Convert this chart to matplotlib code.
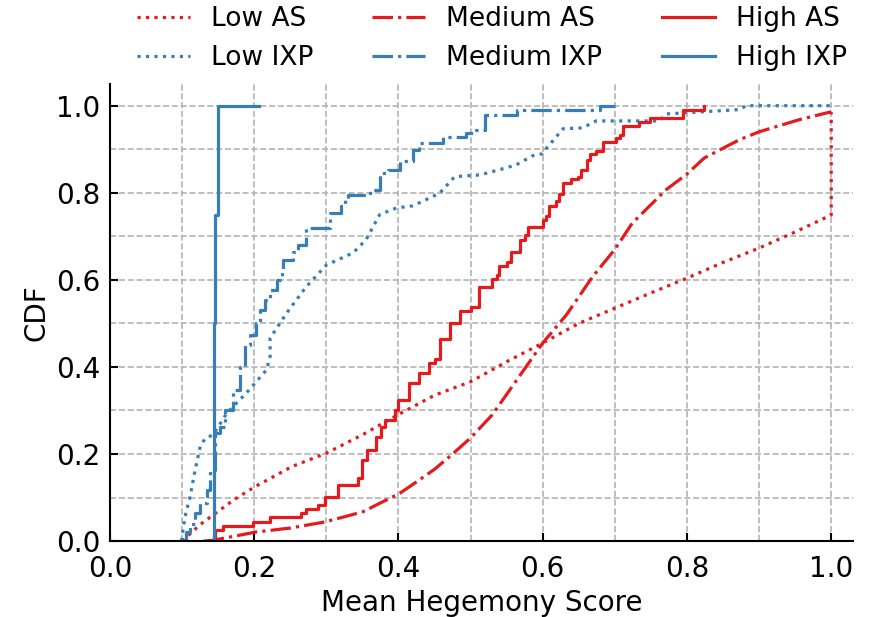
import numpy as np
import matplotlib
matplotlib.use("Agg")
import matplotlib.pyplot as plt
from matplotlib.ticker import MultipleLocator

# Colores (Set1)
RED = "#e41a1c"
BLUE = "#377eb8"

# --- Datos (x = score, y = CDF) ---
# Low AS (curva casi continua)
low_as_x = [0.100, 0.125, 0.171, 0.201, 0.252, 0.300, 0.351, 0.399, 0.450, 0.500,
            0.550, 0.600, 0.650, 0.700, 0.750, 0.800, 0.850, 0.900, 0.950, 1.000, 1.000]
low_as_y = [0.000, 0.038, 0.094, 0.125, 0.171, 0.202, 0.245, 0.290, 0.335, 0.366,
            0.412, 0.455, 0.500, 0.535, 0.570, 0.604, 0.640, 0.673, 0.710, 0.749, 0.985]

# Medium AS
med_as_x = [0.130, 0.143, 0.203, 0.250, 0.298, 0.350, 0.402, 0.425, 0.450, 0.475,
            0.500, 0.530, 0.564, 0.600, 0.633, 0.669, 0.700, 0.724, 0.771, 0.800,
            0.824, 0.873, 0.900, 0.956, 1.000]
med_as_y = [0.000, 0.002, 0.021, 0.030, 0.044, 0.067, 0.110, 0.136, 0.165, 0.200,
            0.237, 0.290, 0.370, 0.455, 0.520, 0.607, 0.670, 0.730, 0.807, 0.843,
            0.880, 0.922, 0.940, 0.968, 0.986]

# High AS (escalones)
high_as_x = [0.143, 0.145, 0.157, 0.198, 0.222, 0.265, 0.272, 0.289, 0.298, 0.316,
             0.344, 0.349, 0.356, 0.369, 0.376, 0.381, 0.395, 0.399, 0.415, 0.429,
             0.443, 0.450, 0.457, 0.471, 0.485, 0.501, 0.512, 0.529, 0.537, 0.540,
             0.551, 0.556, 0.568, 0.575, 0.579, 0.600, 0.605, 0.609, 0.619, 0.623,
             0.628, 0.639, 0.649, 0.653, 0.662, 0.665, 0.674, 0.684, 0.702, 0.707,
             0.711, 0.734, 0.749, 0.794, 0.824]
high_as_y = [0.000, 0.025, 0.035, 0.045, 0.055, 0.065, 0.073, 0.083, 0.102, 0.129,
             0.144, 0.186, 0.209, 0.240, 0.263, 0.278, 0.301, 0.324, 0.362, 0.385,
             0.408, 0.419, 0.464, 0.500, 0.529, 0.537, 0.583, 0.602, 0.611, 0.631,
             0.642, 0.665, 0.692, 0.703, 0.722, 0.738, 0.746, 0.769, 0.782, 0.797,
             0.822, 0.831, 0.837, 0.853, 0.876, 0.890, 0.897, 0.917, 0.926, 0.933,
             0.954, 0.963, 0.972, 0.989, 1.000]

# Low IXP
low_ixp_x = [0.099, 0.104, 0.111, 0.118, 0.125, 0.132, 0.143, 0.162, 0.189, 0.217,
             0.222, 0.222, 0.245, 0.272, 0.300, 0.337, 0.355, 0.374, 0.397, 0.420,
             0.443, 0.457, 0.478, 0.513, 0.540, 0.563, 0.586, 0.600, 0.605, 0.619,
             0.628, 0.655, 0.674, 0.762, 0.771, 0.873, 0.882, 1.000]
low_ixp_y = [0.000, 0.056, 0.102, 0.163, 0.217, 0.236, 0.244, 0.294, 0.340, 0.393,
             0.424, 0.466, 0.524, 0.584, 0.634, 0.662, 0.692, 0.750, 0.765, 0.770,
             0.788, 0.799, 0.837, 0.841, 0.853, 0.864, 0.885, 0.890, 0.902, 0.929,
             0.947, 0.949, 0.965, 0.965, 0.981, 0.991, 1.000, 1.000]

# Medium IXP (escalones)
med_ixp_x = [0.101, 0.105, 0.111, 0.118, 0.125, 0.134, 0.139, 0.145, 0.152, 0.159,
             0.171, 0.180, 0.187, 0.194, 0.203, 0.208, 0.215, 0.222, 0.231, 0.238,
             0.240, 0.254, 0.261, 0.272, 0.305, 0.320, 0.326, 0.330, 0.360, 0.374,
             0.385, 0.402, 0.420, 0.429, 0.462, 0.494, 0.508, 0.520, 0.565, 0.679,
             0.704]
med_ixp_y = [0.000, 0.020, 0.040, 0.064, 0.087, 0.117, 0.163, 0.248, 0.263, 0.301,
             0.347, 0.400, 0.451, 0.474, 0.501, 0.531, 0.554, 0.577, 0.600, 0.623,
             0.646, 0.665, 0.680, 0.718, 0.753, 0.770, 0.784, 0.795, 0.807, 0.845,
             0.853, 0.872, 0.899, 0.914, 0.929, 0.937, 0.945, 0.979, 0.989, 1.000,
             1.000]

# High IXP (escalones)
high_ixp_x = [0.144, 0.146, 0.150, 0.206]
high_ixp_y = [0.500, 0.750, 1.000, 1.000]

plt.rcParams['font.family'] = 'DejaVu Sans'
plt.rcParams['font.size'] = 20

fig = plt.figure(figsize=(8.75, 6.17), dpi=100)
ax = fig.add_axes([0.1257, 0.123, 0.849, 0.741])

lw = 2.3
ax.plot(low_as_x, low_as_y, color=RED, linestyle=':', linewidth=lw, label='Low AS')
ax.plot(low_ixp_x, low_ixp_y, color=BLUE, linestyle=':', linewidth=lw, label='Low IXP')
ax.plot(med_as_x, med_as_y, color=RED, linestyle='-.', linewidth=lw, label='Medium AS')
ax.step(med_ixp_x, med_ixp_y, where='post', color=BLUE, linestyle='-.', linewidth=lw,
        label='Medium IXP')
ax.step(high_as_x, high_as_y, where='post', color=RED, linestyle='-', linewidth=lw,
        label='High AS')
ax.step([high_ixp_x[0]] + high_ixp_x, [0.0] + high_ixp_y, where='post', color=BLUE,
        linestyle='-', linewidth=lw, label='High IXP')

ax.set_xlim(0, 1.03)
ax.set_ylim(0, 1.05)
ax.xaxis.set_major_locator(MultipleLocator(0.2))
ax.xaxis.set_minor_locator(MultipleLocator(0.1))
ax.yaxis.set_major_locator(MultipleLocator(0.2))
ax.yaxis.set_minor_locator(MultipleLocator(0.1))
ax.tick_params(which='major', direction='in', length=6, width=1.5)
ax.tick_params(axis='x', which='major', pad=10)
ax.tick_params(axis='y', which='major', pad=7)
ax.tick_params(which='minor', length=0)
ax.grid(True, which='both', linestyle='--', color='0.7', linewidth=1.2)
ax.set_axisbelow(True)

for s in ['top', 'right']:
    ax.spines[s].set_visible(False)
for s in ['left', 'bottom']:
    ax.spines[s].set_linewidth(1.5)

ax.set_xlabel('Mean Hegemony Score')
ax.set_ylabel('CDF')

fig.legend(loc='upper center', bbox_to_anchor=(0.562, 1.029), ncol=3, frameon=False,
           fontsize=19, columnspacing=2.25)

fig.savefig('out.png', dpi=100)
